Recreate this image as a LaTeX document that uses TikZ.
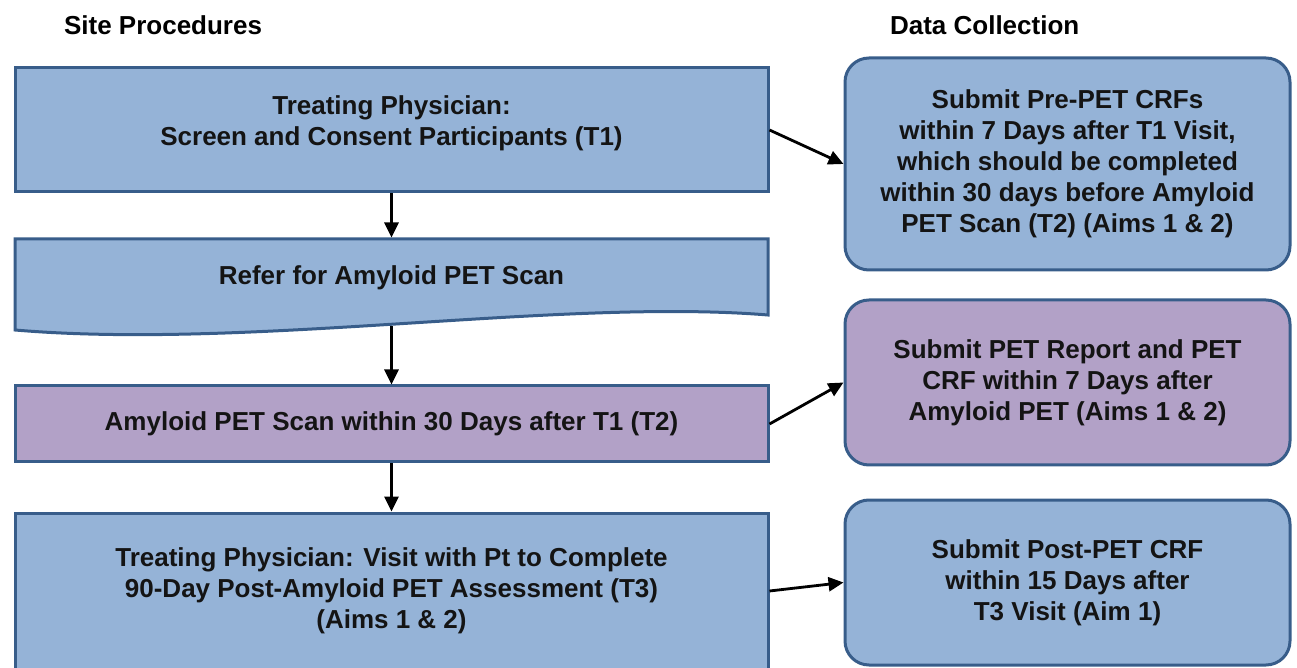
\documentclass[tikz,border=0pt]{standalone}
\usepackage{fontspec}
\setmainfont{Liberation Sans}
\usetikzlibrary{arrows.meta}
\definecolor{boxblue}{RGB}{149,179,215}
\definecolor{boxpurple}{RGB}{178,161,199}
\definecolor{boxline}{RGB}{56,93,138}
\definecolor{textdark}{RGB}{20,20,20}

\begin{document}
\begin{tikzpicture}[x=0.5pt,y=-0.5pt]
\tikzset{site/.style = {shape=rectangle,draw=boxline,line width=1.5pt,minimum width=376.5pt,align=center,
  text=textdark,font=\fontsize{13}{15.5}\selectfont\bfseries}}
\tikzset{data/.style = {site,rounded corners=12pt,minimum width=222.5pt}}
\tikzset{title/.style = {anchor=west,font=\fontsize{13}{15.5}\selectfont\bfseries}}
\tikzset{edge/.style = {->,>={Triangle[length=7.5pt,width=7pt]},line width=1.4pt}}
\useasboundingbox (0,0) rectangle (1297,668);
% titles
\node[title] (sitetitle) at (57,25) {Site Procedures};
\node[title] (datatitle) at (883,25) {Data Collection};
% site boxes
\node[site, fill=boxblue, minimum height=62pt, text depth=9pt] (screen) at (391.5,130) {Treating Physician:\\Screen and Consent Participants (T1)};
\draw[boxline, line width=1.5pt, fill=boxblue] (15,239) -- (768,239) -- (768,315)
  .. controls (560,298) and (250,350) .. (15,330) -- cycle;
\node[site, draw=none, minimum height=39pt] (refer) at (391.5,278) {Refer for Amyloid PET Scan};
\coordinate (referout) at (391.5,326);
\node[site, fill=boxpurple, minimum height=38pt] (amyloid) at (391.5,424) {Amyloid PET Scan within 30 Days after T1 (T2)};
\node[site, fill=boxblue, minimum height=78pt] (visit) at (391.5,591) {Treating Physician: Visit with Pt to Complete\\90-Day Post-Amyloid PET Assessment (T3)\\(Aims 1 \& 2)};
% data boxes
\node[data, fill=boxblue, minimum height=106pt] (submitpre) at (1067.5,164) {Submit Pre-PET CRFs\\within 7 Days after T1 Visit,\\which should be completed\\within 30 days before Amyloid\\PET Scan (T2) (Aims 1 \& 2)};
\node[data, fill=boxpurple, minimum height=82.5pt] (submitpet) at (1067.5,382.5) {Submit PET Report and PET\\CRF within 7 Days after\\Amyloid PET (Aims 1 \& 2)};
\node[data, fill=boxblue, minimum height=82.5pt] (submitpost) at (1067.5,582.5) {Submit Post-PET CRF\\within 15 Days after\\T3 Visit (Aim 1)};
%arrows
\draw[edge] (screen) -- (refer);
\draw[edge] (referout) -- (amyloid);
\draw[edge] (amyloid) -- (visit);
\draw[edge] (screen.east) -- (submitpre.west);
\draw[edge] (amyloid.east) -- (submitpet.west);
\draw[edge] (visit.east) -- (submitpost.west);
\end{tikzpicture}
\end{document}
